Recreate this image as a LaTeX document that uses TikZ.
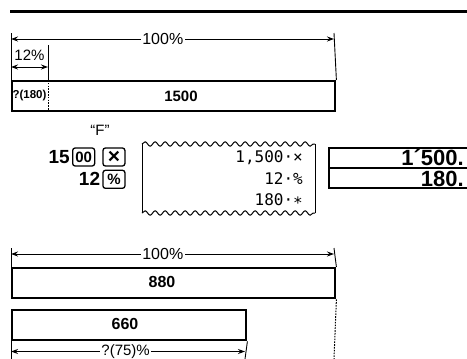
\documentclass[tikz,border=0pt]{standalone}
\usepackage{fontspec}
\setmainfont{Liberation Sans}
\newfontfamily\tapefont{DejaVu Sans Mono}
\usetikzlibrary{arrows.meta,positioning,decorations.pathmorphing}
\tikzset{
bar/.style={draw,line width=2.4pt,anchor=north west,inner sep=0pt,minimum height=30pt},
bartext/.style={font=\fontsize{16}{18}\selectfont\bfseries},
dim/.style={{Stealth[length=7pt,width=5pt]}-{Stealth[length=7pt,width=5pt]},line width=1pt},
tick/.style={line width=.9pt},
dimlabel/.style={fill=white,inner sep=1.5pt,font=\fontsize{16}{17}\selectfont},
key/.style={draw,rounded corners=2.5pt,line width=1.3pt,minimum width=22pt,minimum height=18pt,inner sep=0pt,font=\fontsize{15}{16}\selectfont\bfseries},
entry/.style={anchor=east,inner sep=0pt,font=\fontsize{19}{20}\selectfont\bfseries},
tapeline/.style={anchor=east,inner sep=0pt,font=\tapefont\fontsize{16}{17}\selectfont},
disp/.style={anchor=east,inner sep=0pt,font=\fontsize{22}{23}\selectfont\bfseries},
dashline/.style={dash pattern=on 1.6pt off 1.2pt,line width=1pt},
wave/.style={decorate,decoration={snake,segment length=10pt,amplitude=2.2pt},line width=1pt}
}
\begin{document}
\begin{tikzpicture}[x=1pt,y=-1pt]
\useasboundingbox (0,0) rectangle (467,359);
\coordinate (ruleL) at (10,11);\coordinate (ruleR) at (467,11);
\draw[line width=3pt](ruleL)--(ruleR);
% percentage of 1500
\node[bar,minimum width=323pt](whole) at (11,80){};
\node[bartext,font=\fontsize{15}{16}\selectfont\bfseries](base) at (181,96){1500};
\node[font=\fontsize{11.5}{12}\selectfont\bfseries](part) at (29.5,96){?(180)};
\coordinate (wL) at (11,33);\coordinate (wR) at (334,33);\coordinate (pT) at (48,45);
\coordinate (wA) at (11,39);\coordinate (wB) at (334,39);
\coordinate (pA) at (11,67);\coordinate (pB) at (48,67);
\draw[tick](wL)--(whole.north west);\draw[tick](wR)--(whole.north east);\draw[tick](pT)--(pT|-whole.north);
\draw[dashline](pT|-whole.north)--(pT|-whole.south);
\draw[dim](wA)--node[dimlabel,pos=.47]{100\%}(wB);
\draw[dim](pA)--(pB);
\node[font=\fontsize{15}{16}\selectfont](pl) at (29.5,55){12\%};
% key sequence
\node[font=\fontsize{15}{16}\selectfont](fq) at (100,130){“F”};
\node[entry](n15) at (70,157){15};
\node[key,right=2pt of n15](k00){00};
\node[key,right=7pt of k00](kx){\fontsize{21}{21}\selectfont ×};
\node[key,below=3pt of kx](kpct){\%};
\node[entry,left=2pt of kpct](n12){12};
% tape
\coordinate (tTL) at (142,144);\coordinate (tTR) at (315,144);
\coordinate (tBL) at (142,213);\coordinate (tBR) at (315,213);
\draw[wave](tTL)--(tTR);\draw[wave](tBL)--(tBR);
\draw[line width=1pt](tTL)--(tBL);\draw[line width=1pt](tTR)--(tBR);
\node[tapeline](t1) at (303,158){1,500·×};
\node[tapeline](t2) at (303,179){12·\%};
\node[tapeline](t3) at (303,200){180·∗};
% display
\coordinate (dTR) at (468,148);\coordinate (dBL) at (329,188);\coordinate (dBR) at (468,188);
\coordinate (dML) at (329,168);\coordinate (dMR) at (468,168);
\draw[line width=1.3pt](dTR)-|(dBL)--(dBR);\draw[line width=1.3pt](dML)--(dMR);
\node[disp](d1) at (464,158){1´500.};
\node[disp](d2) at (464,178.5){180.};
% ratio of 660 to 880
\node[bar,minimum width=323pt](big) at (11,267){};
\node[bar,minimum width=234pt](small) at (11,309){};
\node[bartext](v880) at (162,282){880};
\node[bartext](v660) at (125,324){660};
\coordinate (bL) at (11,248);\coordinate (bR) at (334,248);
\coordinate (bA) at (11,254);\coordinate (bB) at (334,254);
\coordinate (sL) at (11,359);\coordinate (sR) at (245,359);\coordinate (eB) at (334,359);
\coordinate (sA) at (11,351.5);\coordinate (sB) at (245,351.5);
\draw[tick](bL)--(big.north west);\draw[tick](bR)--(big.north east);
\draw[dashline](big.south east)--(eB);
\draw[tick](small.south west)--(sL);\draw[tick](small.south east)--(sR);
\draw[dim](bA)--node[dimlabel,pos=.47]{100\%}(bB);
\draw[dim](sA)--node[dimlabel,pos=.49,inner ysep=0pt,font=\fontsize{15}{16}\selectfont]{?(75)\%}(sB);
\end{tikzpicture}
\end{document}
